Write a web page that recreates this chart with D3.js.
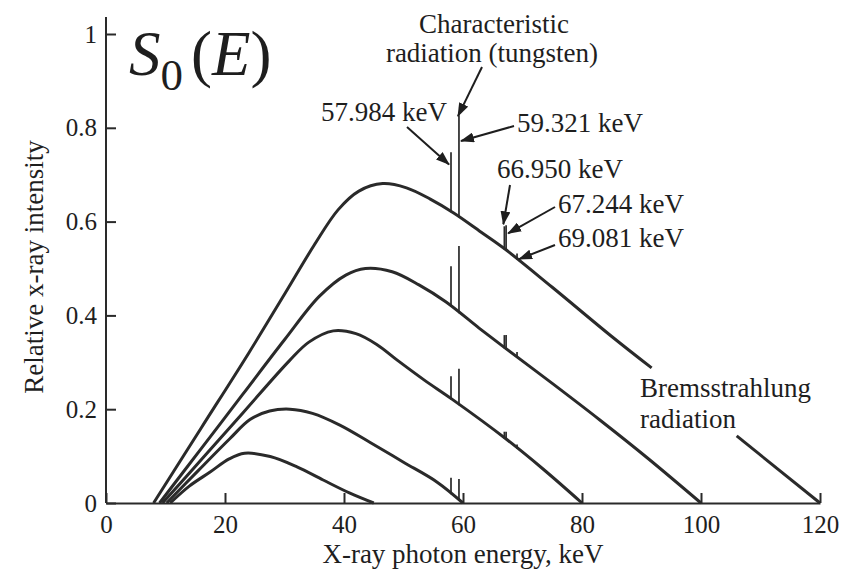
<!DOCTYPE html>
<html>
<head>
<meta charset="utf-8">
<script src="https://cdn.jsdelivr.net/npm/d3@7"></script>
<style>
body { margin: 0; background: #fff; }
svg text { font-family: "Liberation Serif", "Times New Roman", serif; fill: #1e1e1e; }
</style>
</head>
<body>
<svg width="859" height="575"></svg>
<script>
// axis ticks
var xTicks = [0, 20, 40, 60, 80, 100, 120];
var yTicks = [0, 0.2, 0.4, 0.6, 0.8, 1];
var yTickLabels = ["0", "0.2", "0.4", "0.6", "0.8", "1"];

// tube voltages (kVp) and the bremsstrahlung spectra, [keV, relative intensity]
var tubeKVp = [45, 60, 80, 100, 120];
var curve45 = [[10.8, 0], [14, 0.036], [17.5, 0.066], [20.7, 0.094], [23.3, 0.106], [27.6, 0.099], [32.1, 0.077], [36.5, 0.049], [41, 0.021], [45, 0]];
var curve60 = [[10.2, 0], [15.5, 0.069], [20.8, 0.137], [24.2, 0.178], [27.5, 0.196], [30.9, 0.2], [34.7, 0.191], [39.3, 0.166], [44.4, 0.129], [50, 0.087], [55.6, 0.045], [60, 0]];
var curve80 = [[9.5, 0], [16, 0.092], [23, 0.192], [30.8, 0.303], [34.1, 0.343], [38.2, 0.367], [42, 0.361], [45.5, 0.338], [49, 0.304], [53.5, 0.262], [58.2, 0.221], [67.2, 0.137], [73.5, 0.072], [80, 0]];
var curve100 = [[9, 0], [16, 0.116], [23, 0.232], [30, 0.348], [35.8, 0.44], [40.3, 0.486], [43.6, 0.5], [48.1, 0.493], [52.6, 0.465], [57.1, 0.429], [62.7, 0.373], [66.5, 0.336], [75, 0.255], [83, 0.177], [91, 0.096], [100, 0]];
var curve120 = [[8, 0], [16, 0.16], [24, 0.32], [30, 0.445], [35, 0.55], [39, 0.625], [42.5, 0.665], [46.5, 0.681], [50.5, 0.672], [54.5, 0.648], [58.5, 0.618], [63, 0.578], [67, 0.542], [75, 0.46], [85, 0.355], [91.7, 0.288], [106, 0.143], [120, 0]];

// characteristic lines of tungsten (keV) and the top of each spike per spectrum
var lineEnergies = [57.984, 59.321, 66.950, 67.244, 69.081];
var tops60 = [0.054, 0.051];
var tops80 = [0.27, 0.286, 0.152, 0.152, 0.125];
var tops100 = [0.505, 0.548, 0.358, 0.358, 0.322];
var tops120 = [0.748, 0.827, 0.59, 0.592, 0.532];

// the 120 kVp curve is broken around the label (keV)
var gap120 = [91.7, 106];

var svg = d3.select("svg");
var x = d3.scaleLinear().domain([0, 120]).range([106, 820]);
var y = d3.scaleLinear().domain([0, 1]).range([503, 34]);
var ink = "#2a2a2a";
var serif = '"Liberation Serif", "Times New Roman", serif';

// axes
var xAxis = svg.append("g")
    .attr("transform", "translate(0," + y(0) + ")")
    .call(d3.axisBottom(x).tickValues(xTicks).tickSizeInner(-10).tickSizeOuter(0).tickPadding(12));
var yAxis = svg.append("g")
    .attr("transform", "translate(" + x(0) + ",0)")
    .call(d3.axisLeft(y).tickValues(yTicks).tickSizeInner(-10).tickSizeOuter(0).tickPadding(9)
      .tickFormat(function(d, i) { return yTickLabels[i]; }));
yAxis.select(".domain").remove();
svg.append("line")
    .attr("x1", x(0)).attr("x2", x(0))
    .attr("y1", y(0)).attr("y2", y(1.036))
    .attr("stroke", ink).attr("stroke-width", 2);
[xAxis, yAxis].forEach(function(a) {
  a.attr("font-family", serif);
  a.selectAll("path,line").attr("stroke", ink).attr("stroke-width", 2);
  a.selectAll("text").attr("font-size", 25).attr("fill", "#1e1e1e");
});

svg.append("text")
    .attr("x", 463).attr("y", 563)
    .attr("text-anchor", "middle")
    .attr("font-family", serif)
    .attr("font-size", 27)
    .text("X-ray photon energy, keV");
svg.append("text")
    .attr("transform", "translate(43,267) rotate(-90)")
    .attr("text-anchor", "middle")
    .attr("font-family", serif)
    .attr("font-size", 27)
    .text("Relative x-ray intensity");

// spectra; the 120 kVp one is split in two pieces around the gap
var spectra = [curve45, curve60, curve80, curve100, curve120];
var pieces = [];
spectra.forEach(function(c, i) {
  if (tubeKVp[i] === 120) {
    pieces.push(c.filter(function(p) { return p[0] <= gap120[0]; }));
    pieces.push(c.filter(function(p) { return p[0] >= gap120[1]; }));
  } else {
    pieces.push(c);
  }
});

var line = d3.line()
    .x(function(d) { return x(d[0]); })
    .y(function(d) { return y(d[1]); })
    .curve(d3.curveCatmullRom.alpha(0.5));

svg.append("g").selectAll("path")
    .data(pieces)
  .enter().append("path")
    .attr("fill", "none")
    .attr("stroke", ink)
    .attr("stroke-width", 3)
    .attr("stroke-linejoin", "round")
    .attr("d", line);

function valueAt(curve, e) {
  var i = d3.bisector(function(p) { return p[0]; }).left(curve, e);
  if (i <= 0) return curve[0][1];
  if (i >= curve.length) return curve[curve.length - 1][1];
  var a = curve[i - 1], b = curve[i];
  return a[1] + (b[1] - a[1]) * (e - a[0]) / (b[0] - a[0]);
}

// characteristic spikes
var spikeSets = [[curve60, tops60], [curve80, tops80], [curve100, tops100], [curve120, tops120]];
var spikes = [];
spikeSets.forEach(function(s) {
  s[1].forEach(function(top, j) {
    spikes.push({ e: lineEnergies[j], base: valueAt(s[0], lineEnergies[j]), top: top });
  });
});
svg.append("g").selectAll("line")
    .data(spikes)
  .enter().append("line")
    .attr("x1", function(d) { return x(d.e); })
    .attr("x2", function(d) { return x(d.e); })
    .attr("y1", function(d) { return y(d.base) + 1; })
    .attr("y2", function(d) { return y(d.top); })
    .attr("stroke", ink)
    .attr("stroke-width", 1.7);

// arrows
svg.append("defs").append("marker")
    .attr("id", "head")
    .attr("viewBox", "0 -5 14 10")
    .attr("refX", 13).attr("refY", 0)
    .attr("markerUnits", "userSpaceOnUse")
    .attr("markerWidth", 14).attr("markerHeight", 10)
    .attr("orient", "auto")
  .append("path")
    .attr("d", "M0,-5L14,0L0,5Z")
    .attr("fill", "#1e1e1e");

function arrow(x1, y1, x2, y2) {
  svg.append("line")
      .attr("x1", x1).attr("y1", y1)
      .attr("x2", x2).attr("y2", y2)
      .attr("stroke", "#1e1e1e")
      .attr("stroke-width", 2)
      .attr("marker-end", "url(#head)");
}

function label(txt, lx, ly, anchor) {
  svg.append("text")
      .attr("x", lx).attr("y", ly)
      .attr("text-anchor", anchor || "start")
      .attr("font-family", serif)
      .attr("font-size", 27)
      .text(txt);
}

label("Characteristic", 494, 33, "middle");
label("radiation (tungsten)", 492, 62, "middle");
arrow(482, 67, x(lineEnergies[1]) - 1, y(tops120[1]) + 1);

label("57.984 keV", 321, 121);
arrow(407, 127, x(lineEnergies[0]) - 2, y(0.722));

label("59.321 keV", 517, 132);
arrow(514, 126, x(lineEnergies[1]) + 2, y(0.772));

label("66.950 keV", 497, 178);
arrow(510, 185, x(lineEnergies[2]) - 1, y(tops120[2]) - 2);

label("67.244 keV", 558, 213);
arrow(555, 207, x(lineEnergies[3]) + 2, y(0.575));

label("69.081 keV", 558, 247);
arrow(555, 245, x(lineEnergies[4]) + 2, y(0.52));

label("Bremsstrahlung", 640, 397);
label("radiation", 640, 428);

// S0(E)
var s0 = svg.append("text")
    .attr("x", 129).attr("y", 75)
    .attr("font-family", serif)
    .attr("font-size", 63);
s0.append("tspan").attr("font-style", "italic").text("S");
s0.append("tspan").attr("font-size", 45).attr("dy", 15).text("0");
s0.append("tspan").attr("dy", -15).attr("dx", 8).text("(");
s0.append("tspan").attr("font-style", "italic").text("E");
s0.append("tspan").text(")");
</script>
</body>
</html>
